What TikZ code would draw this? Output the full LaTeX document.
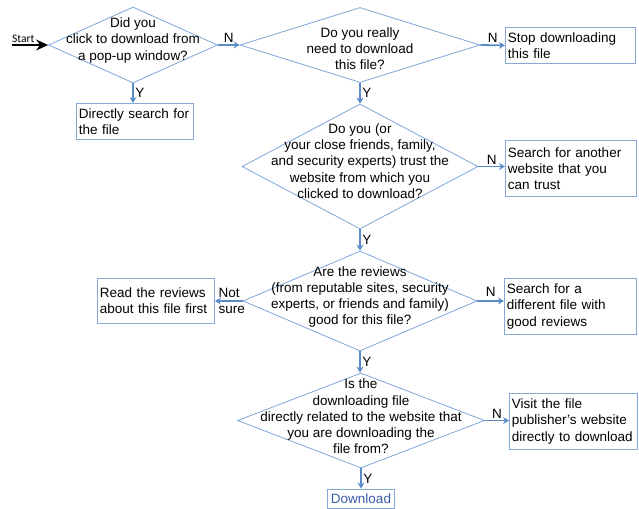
\documentclass[tikz,border=0pt]{standalone}
\usepackage{fontspec}
\setmainfont{Liberation Sans}
\newfontfamily\startfont{Carlito}
\usetikzlibrary{positioning,arrows.meta,shapes.geometric,calc}
\definecolor{dmdblu}{HTML}{7EA6D8}
\definecolor{boxblu}{HTML}{86A8D4}
\definecolor{arrblu}{HTML}{5B8CC8}
\definecolor{dlblu}{HTML}{3A5BAD}

\begin{document}
\begin{tikzpicture}[x=1pt,y=-1pt,
  font=\fontsize{13.5}{16.2}\selectfont,
  dec/.style={diamond,draw=dmdblu,line width=0.8pt,inner sep=0pt},
  qtext/.style={align=center,inner sep=0pt},
  ans/.style={draw=boxblu,line width=0.9pt,anchor=north west,align=left,inner xsep=2.5pt,inner ysep=0pt},
  flow/.style={-{Stealth[length=6pt,width=7pt]},arrblu,line width=1.8pt},
  lab/.style={inner sep=1.5pt,text=black}]
  \useasboundingbox (0,0) rectangle (639,508);
  % questions
  \node[dec,minimum width=169pt,minimum height=76pt] (pop) at (133,45) {};
  \node[qtext] (pop-t) at (133,40.5) {Did you\\click to download from\\a pop-up window?};
  \node[dec,minimum width=240pt,minimum height=75pt] (need) at (360,45) {};
  \node[qtext] (need-t) at (360,48.5) {Do you really\\need to download\\this file?};
  \node[dec,minimum width=236pt,minimum height=125pt] (trust) at (360,166.5) {};
  \node[qtext] (trust-t) at (360,161) {Do you (or\\your close friends, family,\\and security experts) trust the\\website from which you\\clicked to download?};
  \node[dec,minimum width=234pt,minimum height=100pt] (rev) at (360,301) {};
  \node[qtext] (rev-t) at (360,297) {Are the reviews\\(from reputable sites, security\\experts, or friends and family)\\good for this file?};
  \node[dec,minimum width=247pt,minimum height=95pt] (rel) at (361,420.5) {};
  \node[qtext] (rel-t) at (361,416.5) {Is the\\downloading file\\directly related to the website that\\you are downloading the\\file from?};
  % answers
  \node[ans,text width=112pt,minimum height=36pt] (direct) at (76,103) {Directly search for\\the file};
  \node[ans,text width=125pt,minimum height=36pt] (stop) at (505,27) {Stop downloading\\this file};
  \node[ans,text width=126pt,minimum height=56pt] (other) at (505,140) {Search for another\\website that you\\can trust};
  \node[ans,text width=112pt,minimum height=45pt] (readrev) at (97,278) {Read the reviews\\about this file first};
  \node[ans,text width=127pt,minimum height=56pt] (diffile) at (504,278) {Search for a\\different file with\\good reviews};
  \node[ans,text width=123pt,minimum height=56pt] (visit) at (509,393) {Visit the file\\publisher’s website\\directly to download};
  \node[draw=boxblu,line width=0.9pt,text=dlblu,minimum width=67pt,minimum height=19pt,inner sep=0pt] (dl) at (361,498.5) {Download};
  % start
  \coordinate (start) at (12,45);
  \node[font=\startfont\fontsize{11.5}{12}\selectfont,anchor=base west,inner sep=0pt] (start-t) at (12,43) {Start};
  \draw[-{Stealth[length=12pt,width=11pt]},line width=1.6pt] (start) -- (pop.west);
  % connectors
  \draw[flow] (pop.south) -- node[right,lab]{Y} (pop.south |- direct.north);
  \draw[flow] (pop.east) -- node[above,lab]{N} (need.west);
  \draw[flow] (need.east) -- node[above,lab]{N} (stop.west);
  \draw[flow] (need.south) -- node[right,lab]{Y} (trust.north);
  \draw[flow] (trust.east) -- node[above,lab]{N} (trust.east -| other.west);
  \draw[flow] (trust.south) -- node[right,lab]{Y} (rev.north);
  \draw[flow] (rev.west) -- node[lab,align=left,xshift=3pt]{Not\\sure} (rev.west -| readrev.east);
  \draw[flow] (rev.east) -- node[above,lab,yshift=2pt]{N} (rev.east -| diffile.west);
  \draw[flow] (rev.south) -- node[right,lab]{Y} (rev.south |- rel.north);
  \draw[flow] (rel.east) -- node[above,lab]{N} (rel.east -| visit.west);
  \draw[flow] (rel.south) -- node[right,lab]{Y} (dl.north);
\end{tikzpicture}
\end{document}
